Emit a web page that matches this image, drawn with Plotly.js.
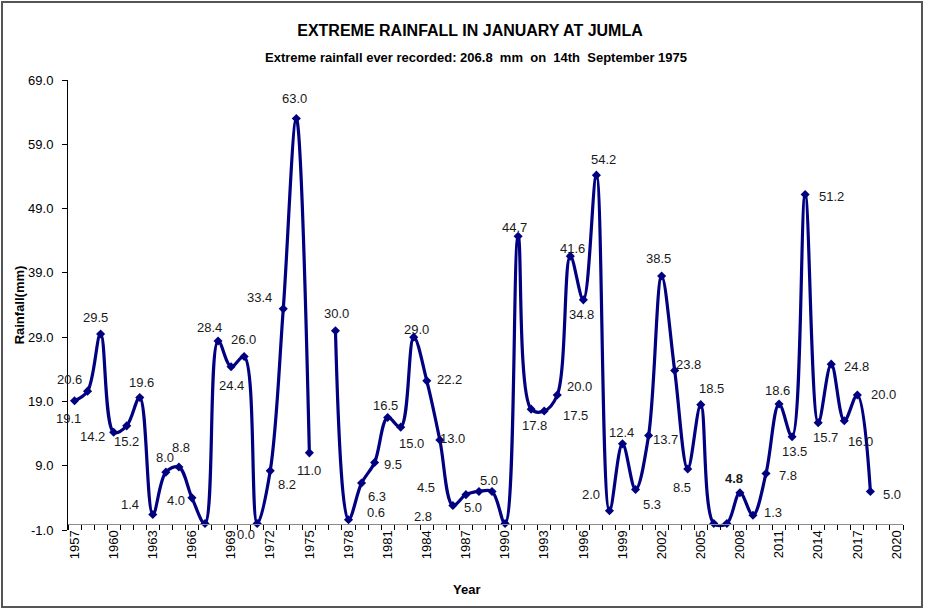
<!DOCTYPE html>
<html>
<head>
<meta charset="utf-8">
<script src="https://cdn.plot.ly/plotly-3.0.1.min.js"></script>
<style>
html, body { margin: 0; padding: 0; background: #fff; }
#chart { width: 925px; height: 609px; }
</style>
</head>
<body>
<div id="chart"></div>
<script>
// ---- data ----
const years = [1957,1958,1959,1960,1961,1962,1963,1964,1965,1966,1967,1968,1969,1970,1971,1972,1973,1974,1975,1976,
  1977,1978,1979,1980,1981,1982,1983,1984,1985,1986,1987,1988,1989,1990,1991,1992,1993,1994,1995,1996,1997,1998,1999,
  2000,2001,2002,2003,2004,2005,2006,2007,2008,2009,2010,2011,2012,2013,2014,2015,2016,2017,2018];
const rainfall = [19.1,20.6,29.5,14.2,15.2,19.6,1.4,8.0,8.8,4.0,0.0,28.4,24.4,26.0,0.0,8.2,33.4,63.0,11.0,null,
  30.0,0.6,6.3,9.5,16.5,15.0,29.0,22.2,13.0,2.8,4.5,5.0,5.0,0.0,44.7,17.8,17.5,20.0,41.6,34.8,54.2,2.0,12.4,
  5.3,13.7,38.5,23.8,8.5,18.5,0.0,0.0,4.8,1.3,7.8,18.6,13.5,51.2,15.7,24.8,16.0,20.0,5.0];
// which points carry a visible data label
const labelShown = [1,1,1,1,1,1,1,1,1,1,0,1,1,1,1,1,1,1,1,0,
  1,1,1,1,1,1,1,1,1,1,1,1,1,0,1,1,1,1,1,1,1,1,1,
  1,1,1,1,1,1,0,0,1,1,1,1,1,1,1,1,1,1,1];
const xTickVals = [1957,1960,1963,1966,1969,1972,1975,1978,1981,1984,1987,1990,1993,1996,1999,2002,2005,2008,2011,2014,2017,2020];
const yTickVals = [-1,9,19,29,39,49,59,69];

// ---- label placement (pixel offsets, dx right, dy down) ----
const labelDx = [-6,-18,-5,-21,0,2,-23,-1,2,-16,0,-9,0,-1,-11,17,-24,-2,0,0,
  1,27,15,18,-2,11,3,23,13,-30,-40,-6,-3,0,-4,3,31,22,2,-2,7,-18,-1,
  16,17,-3,14,-6,11,0,0,-6,20,22,-2,2,26,7,25,16,26,22];
const labelDy = [18,-12,-16,4,16,-15,-10,-15,-20,3,0,-14,19,-17,11,14,-11,-20,18,0,
  -17,-7,13,2,-12,16,-8,-1,-2,11,-7,16,-11,0,-9,16,4,-9,-8,15,-16,-16,-11,
  15,4,-18,-6,19,-16,0,0,-14,-3,2,-14,15,2,15,2,21,-1,3];

const navy = '#000080';
const FONT = 'Liberation Sans, Arial, sans-serif';
const annotations = [];
years.forEach((yr, i) => {
  if (!labelShown[i] || rainfall[i] === null) return;
  const txt = rainfall[i].toFixed(1);
  annotations.push({
    x: yr, y: rainfall[i], xref: 'x', yref: 'y',
    text: yr === 2008 ? '<b>' + txt + '</b>' : txt,
    showarrow: false, xshift: labelDx[i], yshift: -labelDy[i],
    font: { family: FONT, size: 13, color: '#1a1a1a' }
  });
});
annotations.push({
  xref: 'paper', yref: 'paper', x: (476 - 68) / 835, y: (530 - 58) / 450,
  text: '<b>Extreme rainfall ever recorded: 206.8  mm  on  14th  September 1975</b>',
  showarrow: false, xanchor: 'center', yanchor: 'middle',
  font: { family: FONT, size: 13, color: '#000' }
});
annotations.push({
  xref: 'paper', yref: 'paper', x: (466 - 68) / 835, y: (530 - 589) / 450,
  text: '<b>Year</b>', showarrow: false, xanchor: 'center', yanchor: 'middle',
  font: { family: FONT, size: 13, color: '#000' }
});

const trace = {
  x: years, y: rainfall, type: 'scatter', mode: 'lines+markers',
  connectgaps: false,
  line: { color: navy, width: 3.2, shape: 'spline', smoothing: 1 },
  marker: { symbol: 'diamond', size: 7, color: navy },
  hoverinfo: 'x+y'
};

const layout = {
  width: 925, height: 609,
  margin: { l: 68, r: 22, t: 80, b: 79 },
  paper_bgcolor: '#fff', plot_bgcolor: '#fff',
  showlegend: false,
  font: { family: FONT, size: 13, color: '#000' },
  title: {
    text: '<b>EXTREME RAINFALL IN JANUARY AT JUMLA</b>',
    font: { family: FONT, size: 16, color: '#000' },
    xref: 'container', yref: 'container', x: 470 / 925, y: 1 - 30 / 609,
    xanchor: 'center', yanchor: 'middle'
  },
  xaxis: {
    range: [1956.5, 2020.5],
    anchor: 'free', position: 1 / 70,
    tickmode: 'array', tickvals: xTickVals, ticktext: xTickVals.map(String),
    tickangle: -90, ticks: '', ticklen: 0,
    minor: { tick0: 1956.5, dtick: 1, ticks: 'outside', ticklen: 5, tickcolor: '#000', tickwidth: 1, showgrid: false },
    showline: true, linecolor: '#8c8c8c', linewidth: 1.5,
    showgrid: false, zeroline: false,
    tickfont: { size: 13 }
  },
  yaxis: {
    range: [-1, 69],
    tickmode: 'array', tickvals: yTickVals, ticktext: yTickVals.map(v => v.toFixed(1)),
    ticks: 'outside', ticklen: 5, tickcolor: '#000',
    ticklabelstandoff: 6,
    showline: true, linecolor: '#000', linewidth: 1,
    showgrid: false, zeroline: false,
    tickfont: { size: 13 },
    title: { text: '<b>Rainfall(mm)</b>', font: { size: 13 }, standoff: 0 }
  },
  annotations: annotations,
  shapes: [{
    type: 'rect', xref: 'paper', yref: 'paper',
    x0: (2 - 68) / 835, x1: (922 - 68) / 835,
    y0: (530 - 607) / 450, y1: (530 - 2) / 450,
    line: { color: '#555', width: 2 }, fillcolor: 'rgba(0,0,0,0)'
  }]
};

Plotly.newPlot('chart', [trace], layout, { displayModeBar: false, staticPlot: true });
</script>
</body>
</html>
